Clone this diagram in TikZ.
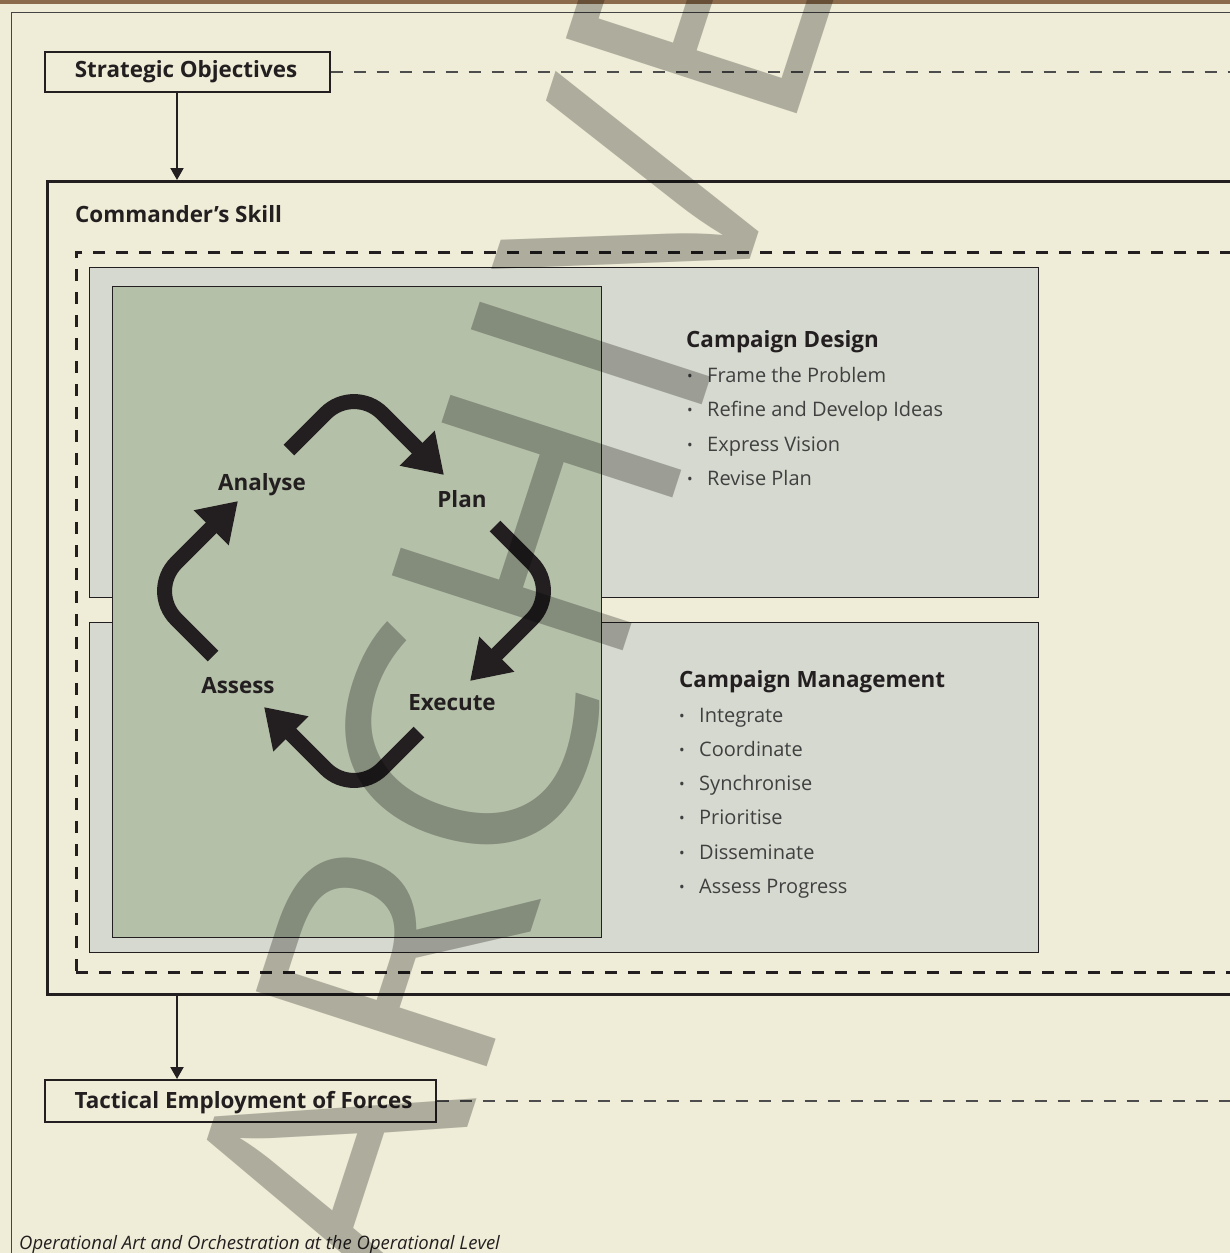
\documentclass[tikz,border=0pt]{standalone}
\usepackage{fontspec}
\setmainfont{Open Sans}
\usetikzlibrary{arrows.meta}
\definecolor{cream}{HTML}{EFEDD8}
\definecolor{topbar}{HTML}{8C6B4C}
\definecolor{boxgrey}{HTML}{D6D9CF}
\definecolor{boxgreen}{HTML}{B5C0A9}
\definecolor{ink}{HTML}{231F20}
\definecolor{lightink}{HTML}{404040}
\definecolor{framegrey}{HTML}{444444}
\definecolor{dashgrey}{HTML}{4D4D4D}
\begin{document}
\begin{tikzpicture}[x=1pt,y=-1pt,
  boldtxt/.style={font=\fontsize{22.4}{26}\selectfont\bfseries, text=ink, inner sep=0pt},
  itemtxt/.style={font=\fontsize{20}{24}\selectfont, text=lightink, inner sep=0pt, anchor=base west},
  bulletmark/.style={font=\fontsize{15}{18}\selectfont, text=lightink, inner sep=0pt, anchor=base},
  labelbox/.style={draw=ink, line width=1.5pt, fill=cream, anchor=north west, inner sep=0pt},
  skillbox/.style={draw=ink, line width=2.6pt, anchor=north west, inner sep=0pt},
  zonebox/.style={draw=ink, line width=2.5pt, dash pattern=on 12pt off 11pt, anchor=north west, inner sep=0pt},
  greybox/.style={draw=ink, line width=1.2pt, fill=boxgrey, anchor=north west, inner sep=0pt},
  greenbox/.style={draw=ink, line width=1pt, fill=boxgreen, anchor=north west, inner sep=0pt},
  flow/.style={draw=ink, line width=2pt, -{Triangle[length=12pt,width=13pt]}},
  thindash/.style={draw=dashgrey, line width=1.5pt, dash pattern=on 12pt off 11pt},
  cyc/.style={draw=ink, line width=15pt, rounded corners=40pt, -{Triangle[length=38pt,width=47pt]}},
  watermark/.style={font=\fontsize{340}{340}\selectfont, text=black, text opacity=0.27, inner sep=0pt}
]
\useasboundingbox (0,0) rectangle (1230,1253);
\begin{scope}
\clip (0,0) rectangle (1230,1253);
\fill[cream] (0,0) rectangle (1230,1253);
\fill[topbar] (0,0) rectangle (1230,3.5);
\draw[framegrey, line width=1pt] (11,12) rectangle (1300,1300);

% coordinates
\coordinate (rightedge) at (1240,0);
\coordinate (ax) at (177,0);

% top and bottom label boxes
\node[labelbox, minimum width=285pt, minimum height=40pt] (so) at (44,51) {};
\node[boldtxt, anchor=base] (sot) at (186,77) {Strategic Objectives};
\node[labelbox, minimum width=391pt, minimum height=42pt] (te) at (44,1079) {};
\node[boldtxt, anchor=base] (tet) at (243.5,1108) {Tactical Employment of Forces};

\draw[thindash] (so.east) -- (so.east -| rightedge);
\draw[thindash] (te.east) -- (te.east -| rightedge);

% commander's skill
\node[skillbox, minimum width=1250pt, minimum height=813pt] (cs) at (46,180) {};
\node[boldtxt, anchor=base west] (cst) at (75,222) {Commander’s Skill};
\node[zonebox, minimum width=1230pt, minimum height=720pt] (zone) at (75,251) {};

\draw[flow] (so.south -| ax) -- (cs.north -| ax);
\draw[flow] (cs.south -| ax) -- (te.north -| ax);

% campaign boxes
\node[greybox, minimum width=949pt, minimum height=330pt] (cd) at (89,267) {};
\node[greybox, minimum width=949pt, minimum height=330pt] (cm) at (89,622) {};
\node[greenbox, minimum width=489pt, minimum height=651pt] (cycle) at (112,286) {};

\node[boldtxt, anchor=base west] (cdt) at (686,347) {Campaign Design};
\foreach \t [count=\i] in {Frame the Problem, Refine and Develop Ideas, Express Vision, Revise Plan} {
  \node[bulletmark] (cdb\i) at (690,{382+34.6*(\i-1)-1}) {•};
  \node[itemtxt] (cdi\i) at (707,{382+34.6*(\i-1)}) {\t};
}
\node[boldtxt, anchor=base west] (cmt) at (679,687) {Campaign Management};
\foreach \t [count=\i] in {Integrate, Coordinate, Synchronise, Prioritise, Disseminate, Assess Progress} {
  \node[bulletmark] (cmb\i) at (682,{722+34.3*(\i-1)-1}) {•};
  \node[itemtxt] (cmi\i) at (699,{722+34.3*(\i-1)}) {\t};
}

% cycle labels
\node[boldtxt, anchor=base] (analyse) at (262,490) {Analyse};
\node[boldtxt, anchor=base] (plan) at (462,507) {Plan};
\node[boldtxt, anchor=base] (assess) at (238,693) {Assess};
\node[boldtxt, anchor=base] (execute) at (452,710) {Execute};

% cycle arrows
\coordinate (vT) at (354,385);
\coordinate (vR) at (560,591);
\coordinate (vB) at (354,797);
\coordinate (vL) at (148,591);
\coordinate (a1s) at (289,450); \coordinate (a1e) at (444,475);
\coordinate (a2s) at (495,526); \coordinate (a2e) at (470,681);
\coordinate (a3s) at (419,732); \coordinate (a3e) at (264,707);
\coordinate (a4s) at (213,656); \coordinate (a4e) at (238,501);
\draw[cyc] (a1s) -- (vT) -- (a1e);
\draw[cyc] (a2s) -- (vR) -- (a2e);
\draw[cyc] (a3s) -- (vB) -- (a3e);
\draw[cyc] (a4s) -- (vL) -- (a4e);

% caption
\node[font=\fontsize{18.5}{22}\selectfont\itshape, text=ink, inner sep=0pt, anchor=base west] (cap) at (19,1249) {Operational Art and Orchestration at the Operational Level};

% watermark
\node[watermark, rotate=72] (wm) at (512,598) {\scalebox{1.03}[1]{ARCHIVE}};
\end{scope}
\end{tikzpicture}
\end{document}
